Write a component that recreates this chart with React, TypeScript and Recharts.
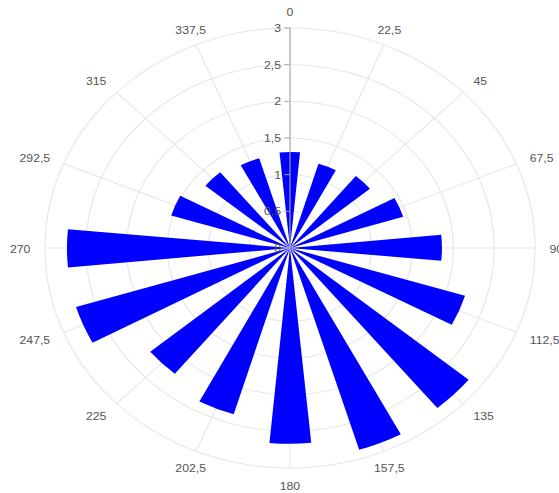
import { PolarAngleAxis, PolarGrid, PolarRadiusAxis, RadialBar, RadialBarChart } from 'recharts'

const DIRECTIONS = [0, 22.5, 45, 67.5, 90, 112.5, 135, 157.5, 180, 202.5, 225, 247.5, 270, 292.5, 315, 337.5]
const VALUES = [1.31, 1.2, 1.27, 1.45, 1.86, 2.24, 2.83, 2.88, 2.67, 2.37, 2.22, 2.74, 2.73, 1.52, 1.34, 1.28]
const RADIUS_TICKS = [0, 0.5, 1, 1.5, 2, 2.5, 3]

const data = DIRECTIONS.map((dir, i) => ({ dir, value: VALUES[i] }))

// the reference picture is stretched sideways, so the chart is drawn round and scaled on x
const STRETCH = 1.114
const W = 502
const H = 493
const CX = 260.3
const CY = 248
const R = 220
const LABEL_RX = 233
const LABEL_RY = 237
// recharts puts category ticks at the start of each sector, the bars in its middle
const HALF_SECTOR = 11.25

const FONT = '"Liberation Sans", Arial, sans-serif'
const TEXT = '#555'

const fmt = (v: number) => String(v).replace('.', ',')

function AngleTick(props: any) {
  const { payload } = props
  const a = ((payload.coordinate + HALF_SECTOR) * Math.PI) / 180
  const x = CX + LABEL_RX * Math.cos(a)
  const y = CY - LABEL_RY * Math.sin(a)
  const c = Math.cos(a)
  const anchor = Math.abs(c) < 0.5 ? 'middle' : c > 0 ? 'start' : 'end'
  return (
    <text x={x} y={y + 1} dy="0.35em" textAnchor={anchor} fontSize={11} fontFamily={FONT} fill={TEXT}>
      {fmt(payload.value)}
    </text>
  )
}

function RadiusTick(props: any) {
  const { x, y, payload } = props
  return (
    <g>
      <line x1={x - 5} y1={y} x2={x} y2={y} stroke="#aaa" />
      <text x={x - 8} y={y} dy="0.35em" textAnchor="end" fontSize={11} fontFamily={FONT} fill={TEXT}>
        {fmt(payload.value)}
      </text>
    </g>
  )
}

export default function App() {
  return (
    <div style={{ position: 'absolute', left: 0, top: 0, width: 559, height: 493, overflow: 'hidden', background: '#fff' }}>
      <div style={{ width: W, height: H, transform: `scaleX(${STRETCH})`, transformOrigin: '0 0' }}>
        <RadialBarChart
          width={W}
          height={H}
          data={data}
          layout="centric"
          cx={CX}
          cy={CY}
          innerRadius={0}
          outerRadius={R}
          startAngle={90 - HALF_SECTOR}
          endAngle={90 - HALF_SECTOR - 360}
          barCategoryGap="26%"
        >
          <PolarGrid gridType="circle" stroke="#e6e6e6" polarAngles={DIRECTIONS.map((d) => 90 - d)} />
          <PolarAngleAxis type="category" dataKey="dir" tick={AngleTick} tickLine={false} axisLine={false} />
          <PolarRadiusAxis
            type="number"
            angle={90}
            domain={[0, 3]}
            ticks={RADIUS_TICKS}
            axisLine={{ stroke: '#aaa' }}
            tick={RadiusTick}
          />
          <RadialBar dataKey="value" fill="#0000ff" isAnimationActive={false} />
        </RadialBarChart>
      </div>
    </div>
  )
}
